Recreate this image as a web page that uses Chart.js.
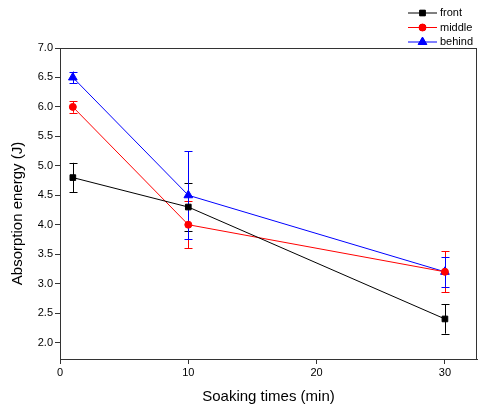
<!DOCTYPE html>
<html>
<head>
<meta charset="utf-8">
<script src="https://cdn.jsdelivr.net/npm/chart.js@4"></script>
<style>
  html, body { margin: 0; padding: 0; background: #fff; }
  #wrap { width: 478px; height: 410px; }
</style>
</head>
<body>
<div id="wrap"><canvas id="chart" width="478" height="410"></canvas></div>
<script>
// soaking time (min)
const soakTimes = [1, 10, 30];
// absorption energy (J) and error half-widths
const frontVals = [4.8, 4.3, 2.4];
const frontErr = [0.25, 0.4, 0.25];
const middleVals = [6.0, 4.0, 3.2];
const middleErr = [0.1, 0.4, 0.35];
const behindVals = [6.5, 4.5, 3.2];
const behindErr = [0.1, 0.75, 0.25];

const yTickLabels = [2.0, 2.5, 3.0, 3.5, 4.0, 4.5, 5.0, 5.5, 6.0, 6.5, 7.0];
const xTickLabels = [0, 10, 20, 30];

const FONT = "'Liberation Sans', Arial, sans-serif";

const series = [
    { label: 'front', vals: frontVals, err: frontErr, color: '#000000', style: 'rect', radius: 4 },
    { label: 'middle', vals: middleVals, err: middleErr, color: '#ff0000', style: 'circle', radius: 3.5 },
    { label: 'behind', vals: behindVals, err: behindErr, color: '#0000ff', style: 'triangle', radius: 5 },
];

// error bars drawn through the scales
const errorBars = {
    id: 'errorBars',
    beforeDatasetsDraw(chart) {
        const { ctx, scales: { x, y } } = chart;
        ctx.save();
        ctx.lineWidth = 1;
        series.forEach(s => {
            ctx.strokeStyle = s.color;
            soakTimes.forEach((t, i) => {
                const px = Math.round(x.getPixelForValue(t)) + 0.5;
                const top = y.getPixelForValue(s.vals[i] + s.err[i]);
                const bot = y.getPixelForValue(s.vals[i] - s.err[i]);
                ctx.beginPath();
                ctx.moveTo(px, top); ctx.lineTo(px, bot);
                ctx.moveTo(px - 4, Math.round(top) + 0.5); ctx.lineTo(px + 4, Math.round(top) + 0.5);
                ctx.moveTo(px - 4, Math.round(bot) + 0.5); ctx.lineTo(px + 4, Math.round(bot) + 0.5);
                ctx.stroke();
            });
        });
        ctx.restore();
    }
};

// box frame round the plot + y axis title
const frame = {
    id: 'frame',
    afterDraw(chart) {
        const { ctx, chartArea: a } = chart;
        ctx.save();
        ctx.strokeStyle = '#333';
        ctx.lineWidth = 1;
        ctx.strokeRect(Math.round(a.left) + 0.5, Math.round(a.top) + 0.5,
            Math.round(a.right - a.left) - 1, Math.round(a.bottom - a.top));

        ctx.translate(18, (a.top + a.bottom) / 2 + 10);
        ctx.rotate(-Math.PI / 2);
        ctx.font = `15px ${FONT}`;
        ctx.fillStyle = '#000';
        ctx.textAlign = 'center';
        ctx.textBaseline = 'middle';
        ctx.fillText('Absorption energy (J)', 0, 0);
        ctx.restore();
    }
};

// legend with line + marker, top right outside the plot
const lineLegend = {
    id: 'lineLegend',
    afterDraw(chart) {
        const { ctx } = chart;
        ctx.save();
        ctx.font = `11px ${FONT}`;
        ctx.textBaseline = 'middle';
        series.forEach((s, i) => {
            const yy = 13 + i * 14.5;
            ctx.strokeStyle = s.color;
            ctx.lineWidth = 1;
            ctx.beginPath();
            ctx.moveTo(408, yy); ctx.lineTo(437, yy);
            ctx.stroke();
            Chart.helpers.drawPoint(ctx, {
                pointStyle: s.style, radius: s.radius, rotation: 0, borderWidth: 1
            }, 422.5, yy);
            ctx.fillStyle = s.color;
            ctx.fill();
            ctx.fillStyle = '#000';
            ctx.fillText(s.label, 440, yy);
        });
        ctx.restore();
    }
};

const datasets = series.map(s => ({
    label: s.label,
    data: soakTimes.map((t, i) => ({ x: t, y: s.vals[i] })),
    borderColor: s.color,
    backgroundColor: s.color,
    borderWidth: 1,
    pointStyle: s.style,
    pointRadius: s.radius,
    pointBorderWidth: 1,
    tension: 0
}));

new Chart(document.getElementById('chart'), {
    type: 'line',
    data: { datasets },
    plugins: [errorBars, frame, lineLegend],
    options: {
        responsive: false,
        animation: false,
        layout: { autoPadding: false, padding: { top: 48, right: 1, left: 0, bottom: 0 } },
        plugins: { legend: { display: false }, tooltip: { enabled: false } },
        scales: {
            x: {
                type: 'linear',
                min: 0,
                max: 32.5,
                afterBuildTicks: axis => { axis.ticks = xTickLabels.map(v => ({ value: v })); },
                afterFit: axis => { axis.height = 51; axis.paddingRight = 0; axis.paddingLeft = 0; },
                grid: { drawOnChartArea: false, drawTicks: true, tickLength: 5, color: '#333' },
                border: { display: true, color: '#333' },
                ticks: { color: '#000', font: { family: FONT, size: 11 }, padding: 2, maxRotation: 0 },
                title: { display: true, text: 'Soaking times (min)', color: '#000', font: { family: FONT, size: 15 }, padding: { top: 3 } }
            },
            y: {
                type: 'linear',
                min: 1.72,
                max: 7.0,
                afterBuildTicks: axis => { axis.ticks = yTickLabels.map(v => ({ value: v })); },
                afterFit: axis => { axis.width = 60; axis.paddingTop = 0; axis.paddingBottom = 0; },
                grid: { drawOnChartArea: false, drawTicks: true, tickLength: 5, color: '#333' },
                border: { display: true, color: '#333' },
                ticks: { color: '#000', font: { family: FONT, size: 11 }, padding: 2, callback: v => v.toFixed(1) },
                title: { display: false }
            }
        }
    }
});
</script>
</body>
</html>
